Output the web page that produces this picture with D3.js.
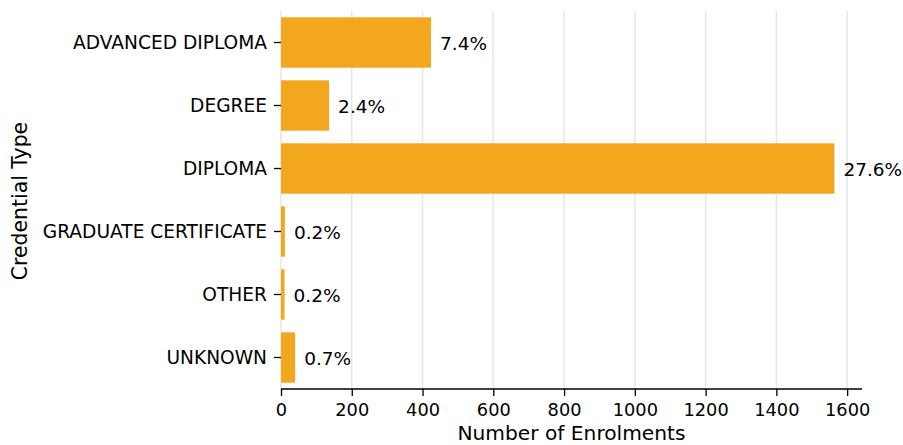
<!DOCTYPE html>
<html>
<head>
<meta charset="utf-8">
<script src="https://cdn.jsdelivr.net/npm/d3@7"></script>
<style>
  html, body { margin: 0; padding: 0; background: #fff; }
  svg text { font-family: "DejaVu Sans", sans-serif; fill: #000; }
</style>
</head>
<body>
<svg id="chart" width="903" height="445"></svg>
<script>
// Enrolments by credential type
const categories = ["ADVANCED DIPLOMA", "DEGREE", "DIPLOMA", "GRADUATE CERTIFICATE", "OTHER", "UNKNOWN"];
const enrolments = [424, 136, 1564, 11, 10, 40];
const shareLabels = ["7.4%", "2.4%", "27.6%", "0.2%", "0.2%", "0.7%"];
const xTicks = [0, 200, 400, 600, 800, 1000, 1200, 1400, 1600];

const svg = d3.select("#chart");
const margin = { top: 11, right: 41, bottom: 56, left: 281 };
const width = 903 - margin.left - margin.right;
const height = 445 - margin.top - margin.bottom;
const g = svg.append("g").attr("transform", `translate(${margin.left},${margin.top})`);

const x = d3.scaleLinear().domain([0, 1642]).range([0, width]);
const y = d3.scaleBand().domain(categories).range([0, height]).paddingInner(0.2).paddingOuter(0.1);

// vertical gridlines
g.append("g").selectAll("line").data(xTicks).join("line")
  .attr("x1", d => x(d)).attr("x2", d => x(d))
  .attr("y1", 0).attr("y2", height)
  .attr("stroke", "#e6e6e6").attr("stroke-width", 1.5);

// bars
g.append("g").selectAll("rect").data(categories).join("rect")
  .attr("x", x(0))
  .attr("y", d => y(d))
  .attr("width", (d, i) => x(enrolments[i]) - x(0))
  .attr("height", y.bandwidth())
  .attr("fill", "#f2a71f");

// value labels
g.append("g").selectAll("text").data(categories).join("text")
  .attr("x", (d, i) => x(enrolments[i]) + 9)
  .attr("y", d => y(d) + y.bandwidth() / 2)
  .attr("dy", "0.38em")
  .style("font-size", "18.5px")
  .text((d, i) => shareLabels[i]);

// x axis
const xAxis = g.append("g").attr("transform", `translate(0,${height})`)
  .call(d3.axisBottom(x).tickValues(xTicks).tickSize(7).tickPadding(7).tickFormat(d3.format("d")));
xAxis.select(".domain").attr("stroke", "#000").attr("stroke-width", 1.3).attr("d", `M0,0H${width}`);
xAxis.selectAll(".tick line").attr("stroke", "#000").attr("stroke-width", 1.3);
xAxis.selectAll(".tick text").style("font-size", "17.8px").attr("font-family", null);

// y axis (ticks only, no spine)
const yAxis = g.append("g")
  .call(d3.axisLeft(y).tickSize(7).tickPadding(7));
yAxis.select(".domain").remove();
yAxis.selectAll(".tick line").attr("stroke", "#000").attr("stroke-width", 1.3);
yAxis.selectAll(".tick text").style("font-size", "18.6px").attr("dy", "0.36em").attr("font-family", null);

// axis titles
svg.append("text")
  .attr("x", margin.left + width / 2).attr("y", 440)
  .attr("text-anchor", "middle").style("font-size", "20.2px")
  .text("Number of Enrolments");

svg.append("text")
  .attr("transform", `translate(27,${margin.top + height / 2 + 1}) rotate(-90)`)
  .attr("text-anchor", "middle").style("font-size", "20.4px")
  .text("Credential Type");
</script>
</body>
</html>
